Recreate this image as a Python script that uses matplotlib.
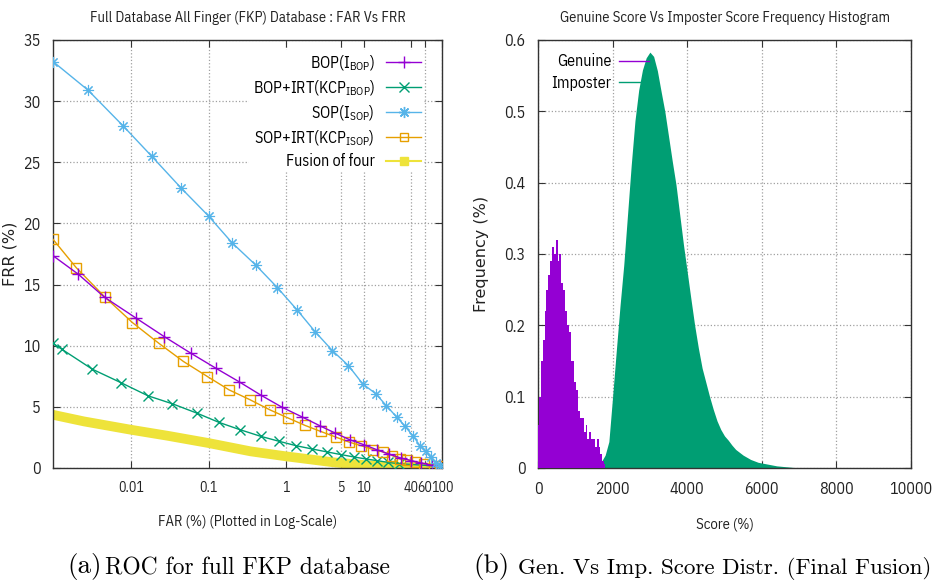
import numpy as np
import matplotlib
matplotlib.use("Agg")
import matplotlib.pyplot as plt
from matplotlib.lines import Line2D

plt.rcParams['font.family'] = ['Liberation Sans Narrow', 'IBM Plex Sans Condensed', 'DejaVu Sans']
plt.rcParams['mathtext.fontset'] = 'custom'
plt.rcParams['mathtext.rm'] = 'IBM Plex Sans Condensed'

# ---- (a) FAR vs FRR ----
bop_far = [0.001, 0.0021, 0.0046, 0.0118, 0.0268, 0.059, 0.124, 0.244, 0.478, 0.889,
           1.61, 2.68, 4.22, 6.52, 9.95, 14.5, 20.8, 29.4, 40.4, 54.2, 73.6, 95.5]
bop_frr = [17.36, 15.86, 13.96, 12.24, 10.75, 9.39, 8.16, 7.07, 5.93, 4.95,
           4.16, 3.46, 2.86, 2.31, 1.90, 1.50, 1.14, 0.82, 0.60, 0.41, 0.22, 0.14]

bopirt_far = [0.001, 0.0013, 0.0032, 0.0074, 0.0167, 0.0343, 0.0705, 0.136, 0.254, 0.468,
              0.81, 1.34, 2.16, 3.36, 5.09, 7.41, 10.7, 14.8, 20.2, 28.1, 95.5]
bopirt_frr = [10.2, 9.71, 8.08, 6.99, 5.90, 5.25, 4.49, 3.73, 3.13, 2.59,
              2.18, 1.82, 1.55, 1.31, 1.09, 0.90, 0.73, 0.60, 0.46, 0.35, 0.14]

sop_far = [0.001, 0.00283, 0.00798, 0.0186, 0.0444, 0.1, 0.2, 0.407, 0.766, 1.37,
           2.33, 3.90, 6.26, 9.57, 14.1, 19.3, 26.2, 33.5, 42.9, 52.1, 61.7, 71.5, 83.0, 95.5]
sop_frr = [33.24, 30.89, 27.97, 25.49, 22.89, 20.6, 18.42, 16.57, 14.75, 12.93,
           11.16, 9.6, 8.38, 6.88, 6.07, 5.09, 4.16, 3.4, 2.59, 1.82, 1.36, 0.87, 0.41, 0.14]

sopirt_far = [0.001, 0.00199, 0.00468, 0.0105, 0.0229, 0.0475, 0.0966, 0.183, 0.341, 0.611,
              1.06, 1.74, 2.76, 4.31, 6.38, 9.20, 13.1, 17.6, 23.0, 28.8, 35.9, 45.0, 58.7, 95.5]
sopirt_frr = [18.7, 16.38, 13.96, 11.89, 10.2, 8.71, 7.48, 6.39, 5.58, 4.76,
              4.08, 3.48, 2.99, 2.53, 2.12, 1.82, 1.50, 1.31, 1.01, 0.73, 0.68, 0.49, 0.35, 0.14]

fusion_far = [0.001, 0.0025, 0.01, 0.0295, 0.1, 0.348, 1.0, 4.09, 11.0, 29.0, 100.0]
fusion_frr = [4.35, 3.81, 3.13, 2.64, 2.04, 1.36, 0.95, 0.46, 0.22, 0.08, 0.0]

# ---- (b) score histograms ----
gen_score = np.arange(0, 1850, 50)
gen_freq = [0.06, 0.10, 0.15, 0.18, 0.22, 0.25, 0.27, 0.29, 0.31, 0.30,
            0.32, 0.29, 0.30, 0.26, 0.25, 0.22, 0.20, 0.19, 0.15, 0.15,
            0.12, 0.11, 0.08, 0.07, 0.07, 0.05, 0.06, 0.04, 0.05, 0.04,
            0.04, 0.03, 0.04, 0.03, 0.02, 0.01, 0.005]

imp_score = np.arange(1400, 7100, 100)
imp_freq = [0.0, 0.001, 0.004, 0.009, 0.018, 0.037, 0.1, 0.165, 0.228, 0.285,
            0.355, 0.425, 0.487, 0.53, 0.558, 0.575, 0.583, 0.577, 0.557, 0.528,
            0.5, 0.465, 0.43, 0.397, 0.355, 0.313, 0.275, 0.237, 0.2, 0.168,
            0.14, 0.12, 0.1, 0.082, 0.066, 0.054, 0.045, 0.039, 0.032, 0.026,
            0.022, 0.018, 0.015, 0.012, 0.01, 0.008, 0.007, 0.006, 0.005, 0.004,
            0.003, 0.0025, 0.002, 0.0015, 0.001, 0.0005, 0.0]

far_ticks = [0.01, 0.1, 1, 5, 10, 40, 60, 100]
far_labels = ['0.01', '0.1', '1', '5', '10', '40', '60', '100']

c_purple = '#9400d3'
c_green = '#009e73'
c_blue = '#56b4e9'
c_orange = '#e69f00'
c_yellow = '#eee33a'

fig = plt.figure(figsize=(9.34, 5.85), dpi=100)
ax1 = fig.add_axes([53/934, 1-468/585, 389/934, 428/585])
ax2 = fig.add_axes([538/934, 1-468/585, 373/934, 428/585])

for ax in (ax1, ax2):
    ax.grid(True, color='#a0a0a0', linestyle=':', linewidth=0.9)
    ax.tick_params(direction='in', top=True, right=True, labelsize=11.5, length=5, pad=9,
                   colors='#333333', labelcolor='#222222')
    for s in ax.spines.values():
        s.set_color('#333333')
        s.set_linewidth(1.0)
ax1.tick_params(axis='x', labelsize=10)

# left panel
ax1.plot(fusion_far, fusion_frr, color=c_yellow, lw=7, solid_capstyle='butt', zorder=2)
ax1.plot(bopirt_far, bopirt_frr, color=c_green, lw=1, marker='x', ms=7, mew=1, zorder=3)
ax1.plot(sopirt_far, sopirt_frr, color=c_orange, lw=1, marker='s', ms=7, mfc='none', mew=1, zorder=3)
ax1.plot(bop_far, bop_frr, color=c_purple, lw=1, marker='+', ms=8, mew=1, zorder=4)
ax1.plot(sop_far, sop_frr, color=c_blue, lw=1, marker=(8, 2, 0), ms=8, mew=0.8, zorder=4)
ax1.set_xscale('log')
ax1.set_xlim(0.001, 100)
ax1.set_ylim(0, 35)
ax1.set_xticks(far_ticks)
ax1.set_xticklabels(far_labels)
ax1.minorticks_off()
ax1.set_yticks(range(0, 36, 5))
ax1.set_title('Full Database All Finger (FKP) Database : FAR Vs FRR', fontsize=10.5, pad=13,
              color='#222222')
ax1.set_xlabel('FAR (%) (Plotted in Log-Scale)', fontsize=10.5, labelpad=15, color='#222222')
ax1.set_ylabel('FRR (%)', fontsize=11.5, family='DejaVu Sans', labelpad=4, color='#222222')

handles = [
    Line2D([], [], color=c_purple, lw=1, marker='+', ms=8),
    Line2D([], [], color=c_green, lw=1, marker='x', ms=7),
    Line2D([], [], color=c_blue, lw=1, marker=(8, 2, 0), ms=8),
    Line2D([], [], color=c_orange, lw=1, marker='s', ms=6, mfc='none'),
    Line2D([], [], color=c_yellow, lw=1.5, marker='s', ms=6),
]
labels = [r'BOP(I$_{\mathrm{BOP}}$)', r'BOP+IRT(KCP$_{\mathrm{IBOP}}$)',
          r'SOP(I$_{\mathrm{SOP}}$)', r'SOP+IRT(KCP$_{\mathrm{ISOP}}$)', 'Fusion of four']
leg = ax1.legend(handles, labels, loc='upper right', bbox_to_anchor=(0.975, 0.995),
                 markerfirst=False, frameon=True, framealpha=1, edgecolor='none',
                 fontsize=11.5, handlelength=2.2, handletextpad=0.7, labelspacing=0.35,
                 borderpad=0.2)
leg.get_frame().set_linewidth(0)

# right panel
ax2.fill_between(imp_score, imp_freq, color=c_green, linewidth=0, zorder=2)
ax2.fill_between(gen_score, gen_freq, step='mid', color=c_purple, linewidth=0, zorder=3)
ax2.set_xlim(0, 10000)
ax2.set_ylim(0, 0.6)
ax2.set_xticks(range(0, 10001, 2000))
ax2.set_yticks([0, 0.1, 0.2, 0.3, 0.4, 0.5, 0.6])
ax2.set_yticklabels(['0', '0.1', '0.2', '0.3', '0.4', '0.5', '0.6'])
ax2.set_title('Genuine Score Vs Imposter Score Frequency Histogram', fontsize=10.5, pad=13,
              color='#222222')
ax2.set_xlabel('Score (%)', fontsize=10.5, labelpad=15, color='#222222')
ax2.set_ylabel('Frequency (%)', fontsize=11.5, family='DejaVu Sans', labelpad=11, color='#222222')
h2 = [Line2D([], [], color=c_purple, lw=1.0), Line2D([], [], color=c_green, lw=1.0)]
leg2 = ax2.legend(h2, ['Genuine', 'Imposter'], loc='upper left', bbox_to_anchor=(0.005, 0.995),
                  markerfirst=False, frameon=False, fontsize=11.5, handlelength=1.9,
                  handletextpad=0.5, labelspacing=0.35, borderpad=0.2)

# captions
fig.text(67/934, 1-566/585, '(a)', fontsize=19.5, family='cmr10', va='center')
fig.text(105/934, 1-568/585, 'ROC for full FKP database', fontsize=16.9, family='cmr10', va='center')
fig.text(473/934, 1-566/585, '(b)', fontsize=19.5, family='cmr10', va='center')
fig.text(518/934, 1-568/585, 'Gen. Vs Imp. Score Distr. (Final Fusion)', fontsize=16.6,
         family='cmr10', va='center')

fig.savefig('out.png', dpi=100)
